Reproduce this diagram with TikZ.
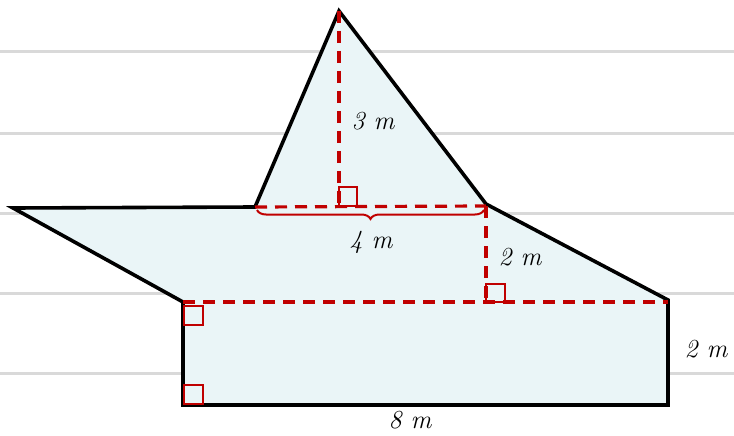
\documentclass[tikz,border=0pt]{standalone}
\usepackage{fontspec}
\setmainfont{Latin Modern Roman}
\usetikzlibrary{decorations.pathreplacing}
\definecolor{fillc}{HTML}{EAF5F7}
\definecolor{grayl}{HTML}{D9D9D9}
\definecolor{redd}{HTML}{C00000}
\tikzset{
  gridline/.style={grayl, line width=3pt},
  shapeline/.style={black, line width=3.6pt, line join=miter, fill=fillc},
  helper/.style={redd, line width=3.2pt, dash pattern=on 12pt off 8pt},
  rasq/.style={redd, line width=2pt},
  lbl/.style={font=\fontsize{26}{28}\selectfont\itshape, inner sep=1pt}
}
\begin{document}
\begin{tikzpicture}[x=1pt,y=-1pt]
\useasboundingbox (0,0) rectangle (734,436);
\foreach \yy in {52,133,213,293,373} \draw[gridline] (0,\yy) -- (734,\yy);
\coordinate (A) at (339,11);
\coordinate (B) at (486,204);
\coordinate (C) at (668,300);
\coordinate (D) at (668,405);
\coordinate (E) at (183,405);
\coordinate (F) at (183,302);
\coordinate (G) at (13,208);
\coordinate (H) at (255,207);
\coordinate (P) at (339,206);
\coordinate (Q) at (486,206);
\coordinate (R) at (486,302);
\coordinate (S) at (668,302);
\draw[shapeline] (A) -- (B) -- (C) -- (D) -- (E) -- (F) -- (G) -- (H) -- cycle;
\draw[helper] (A) -- (P);
\draw[helper] (H) -- (Q);
\draw[helper] (Q) -- (R);
\draw[helper] (F) -- (S);
\draw[rasq] (339,187) rectangle (357,206);
\draw[rasq] (486,284) rectangle (505,302);
\draw[rasq] (184,306) rectangle (203,325);
\draw[rasq] (184,385) rectangle (203,404);
\draw[redd, line width=2pt, decorate, decoration={brace, mirror, amplitude=9pt}] (257,210) -- (484,210);
\node[lbl] (l3) at (373,121) {3 m};
\node[lbl] (l4) at (371,242) {4 m};
\node[lbl] (l2a) at (520,257) {2 m};
\node[lbl] (l2b) at (706,349) {2 m};
\node[lbl] (l8) at (410,420) {8 m};
\end{tikzpicture}
\end{document}
